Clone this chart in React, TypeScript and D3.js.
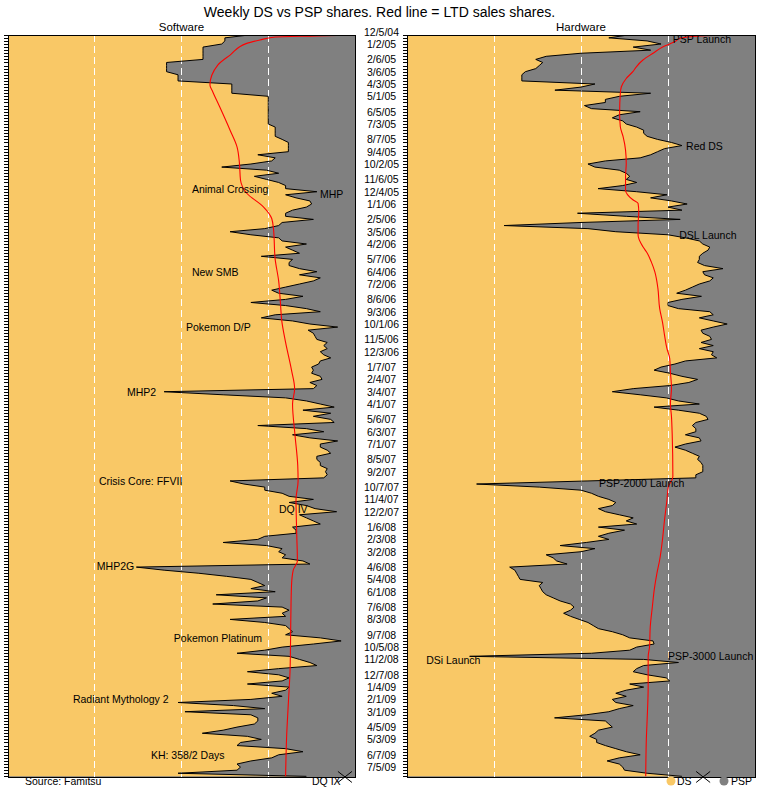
import React from "react";
import * as d3 from "d3";

// Month labels (first Sunday of each month) shown between the panels
const tickLabels = [
  "12/5/04","1/2/05","2/6/05","3/6/05","4/3/05","5/1/05","6/5/05","7/3/05","8/7/05","9/4/05",
  "10/2/05","11/6/05","12/4/05","1/1/06","2/5/06","3/5/06","4/2/06","5/7/06","6/4/06","7/2/06",
  "8/6/06","9/3/06","10/1/06","11/5/06","12/3/06","1/7/07","2/4/07","3/4/07","4/1/07","5/6/07",
  "6/3/07","7/1/07","8/5/07","9/2/07","10/7/07","11/4/07","12/2/07","1/6/08","2/3/08","3/2/08",
  "4/6/08","5/4/08","6/1/08","7/6/08","8/3/08","9/7/08","10/5/08","11/2/08","12/7/08","1/4/09",
  "2/1/09","3/1/09","4/5/09","5/3/09","6/7/09","7/5/09",
];

// Weekly DS share of software sales (week 1 = 12/12/04)
const swShare = [
  0.70, 0.625, 0.625, 0.616, 0.562, 0.562, 0.562, 0.562, 0.562, 0.457,
  0.457, 0.457, 0.457, 0.49, 0.49, 0.49, 0.645, 0.645, 0.645, 0.645,
  0.75, 0.75, 0.75, 0.75, 0.75, 0.75, 0.75, 0.75, 0.75, 0.75,
  0.77, 0.77, 0.77, 0.77, 0.79, 0.808, 0.808, 0.808, 0.808, 0.72,
  0.77, 0.76, 0.70, 0.616, 0.745, 0.78, 0.71, 0.745, 0.78, 0.80,
  0.80, 0.89, 0.80, 0.83, 0.87, 0.875, 0.86, 0.82, 0.80, 0.80,
  0.88, 0.79, 0.78, 0.74, 0.64, 0.70, 0.78, 0.79, 0.86, 0.80,
  0.82, 0.84, 0.73, 0.82, 0.81, 0.81, 0.84, 0.89, 0.84, 0.90,
  0.88, 0.84, 0.80, 0.76, 0.78, 0.85, 0.80, 0.70, 0.80, 0.86,
  0.90, 0.77, 0.73, 0.82, 0.87, 0.95, 0.865, 0.88, 0.885, 0.89,
  0.92, 0.91, 0.92, 0.90, 0.91, 0.93, 0.90, 0.895, 0.875, 0.88,
  0.875, 0.90, 0.905, 0.87, 0.89, 0.88, 0.45, 0.62, 0.80, 0.86,
  0.90, 0.94, 0.85, 0.93, 0.88, 0.93, 0.94, 0.72, 0.86, 0.91,
  0.82, 0.87, 0.95, 0.90, 0.90, 0.92, 0.93, 0.89, 0.89, 0.90,
  0.90, 0.92, 0.915, 0.92, 0.91, 0.64, 0.68, 0.74, 0.74, 0.79,
  0.81, 0.88, 0.81, 0.86, 0.885, 0.947, 0.84, 0.86, 0.88, 0.90,
  0.82, 0.83, 0.83, 0.74, 0.72, 0.62, 0.745, 0.79, 0.78, 0.80,
  0.79, 0.85, 0.87, 0.37, 0.45, 0.55, 0.63, 0.70, 0.72, 0.74,
  0.70, 0.77, 0.60, 0.745, 0.72, 0.59, 0.79, 0.81, 0.79, 0.80,
  0.64, 0.74, 0.80, 0.81, 0.82, 0.80, 0.90, 0.96, 0.88, 0.79,
  0.74, 0.66, 0.81, 0.84, 0.87, 0.89, 0.78, 0.69, 0.78, 0.81,
  0.79, 0.69, 0.81, 0.80, 0.76, 0.79, 0.70, 0.49, 0.65, 0.74,
  0.51, 0.70, 0.72, 0.72, 0.71, 0.66, 0.62, 0.56, 0.69, 0.73,
  0.67, 0.66, 0.80, 0.85, 0.78, 0.76, 0.70, 0.66, 0.67, 0.66,
  0.49, 0.86,
];

// Weekly DS share of hardware sales
const hwShare = [
  0.64, 0.58, 0.69, 0.73, 0.65, 0.70, 0.50, 0.40, 0.37, 0.39,
  0.38, 0.37, 0.34, 0.33, 0.33, 0.33, 0.54, 0.50, 0.425, 0.70,
  0.61, 0.57, 0.57, 0.51, 0.53, 0.67, 0.61, 0.59, 0.62, 0.63,
  0.66, 0.68, 0.68, 0.69, 0.72, 0.76, 0.79, 0.74, 0.72, 0.70,
  0.67, 0.57, 0.52, 0.54, 0.61, 0.63, 0.64, 0.63, 0.66, 0.62,
  0.549, 0.66, 0.747, 0.70, 0.76, 0.805, 0.75, 0.79, 0.49, 0.63,
  0.785, 0.50, 0.279, 0.52, 0.60, 0.75, 0.80, 0.84, 0.85, 0.87,
  0.865, 0.85, 0.84, 0.84, 0.835, 0.855, 0.908, 0.85, 0.855, 0.88,
  0.87, 0.84, 0.82, 0.80, 0.775, 0.846, 0.79, 0.75, 0.75, 0.78,
  0.87, 0.88, 0.84, 0.88, 0.92, 0.88, 0.845, 0.85, 0.87, 0.875,
  0.845, 0.88, 0.84, 0.88, 0.875, 0.89, 0.80, 0.77, 0.73, 0.71,
  0.755, 0.79, 0.835, 0.81, 0.755, 0.65, 0.59, 0.67, 0.745, 0.78,
  0.84, 0.71, 0.78, 0.84, 0.86, 0.865, 0.83, 0.82, 0.83, 0.83,
  0.80, 0.84, 0.845, 0.80, 0.77, 0.80, 0.82, 0.84, 0.835, 0.845,
  0.85, 0.85, 0.85, 0.83, 0.83, 0.52, 0.20, 0.38, 0.50, 0.53,
  0.55, 0.58, 0.60, 0.59, 0.55, 0.57, 0.61, 0.65, 0.63, 0.66,
  0.55, 0.625, 0.58, 0.55, 0.58, 0.515, 0.44, 0.54, 0.50, 0.40,
  0.42, 0.43, 0.46, 0.295, 0.31, 0.315, 0.32, 0.325, 0.39, 0.38,
  0.385, 0.39, 0.40, 0.42, 0.44, 0.47, 0.48, 0.47, 0.45, 0.47,
  0.495, 0.52, 0.535, 0.55, 0.59, 0.62, 0.64, 0.707, 0.71, 0.66,
  0.64, 0.53, 0.18, 0.68, 0.78, 0.68, 0.66, 0.65, 0.69, 0.745,
  0.755, 0.64, 0.68, 0.63, 0.60, 0.63, 0.59, 0.60, 0.65, 0.61,
  0.58, 0.515, 0.424, 0.57, 0.58, 0.59, 0.55, 0.54, 0.525, 0.545,
  0.545, 0.57, 0.60, 0.63, 0.67, 0.61, 0.575, 0.61, 0.62, 0.625,
  0.69, 0.79,
];

// Life-to-date DS share (red line), read at week positions
const swLtdWeek = [1.1, 1.35, 1.7, 2.7, 3.8, 7.6, 10.8, 17.3, 19.5, 24.4, 32, 37.4, 42.8, 48.2, 52.5, 56.9, 60.7, 64, 74, 81, 88, 94, 101, 110, 116, 121, 131, 141, 146, 152, 163, 172, 175, 180, 191, 207, 218, 229, 242];
const swLtdShare = [0.976, 0.89, 0.77, 0.726, 0.688, 0.64, 0.605, 0.582, 0.59, 0.61, 0.64, 0.66, 0.667, 0.67, 0.688, 0.736, 0.76, 0.765, 0.77, 0.78, 0.785, 0.789, 0.80, 0.817, 0.826, 0.82, 0.827, 0.835, 0.836, 0.83, 0.832, 0.834, 0.822, 0.817, 0.815, 0.813, 0.808, 0.803, 0.80];

const hwLtdWeek = [1, 1.4, 2.2, 3.3, 4.9, 7, 9.2, 11.4, 13, 15.2, 17.9, 20, 26.5, 30.9, 34.1, 38.5, 42.8, 47.1, 51.5, 54.7, 55.8, 58.5, 62.8, 66.1, 69.9, 71.5, 74.8, 78, 83.4, 89.9, 94.3, 98.6, 103, 106.2, 110.5, 115.9, 120.8, 125.1, 130.6, 144.6, 147.9, 152.2, 158.7, 165.2, 171.7, 176.1, 180.9, 186.9, 193.4, 199.9, 203.1, 212.9, 223.7, 229.1, 242];
const hwLtdShare = [0.956, 0.841, 0.784, 0.769, 0.736, 0.707, 0.678, 0.659, 0.649, 0.63, 0.616, 0.613, 0.611, 0.613, 0.621, 0.628, 0.63, 0.628, 0.628, 0.65, 0.664, 0.666, 0.664, 0.664, 0.678, 0.688, 0.702, 0.712, 0.721, 0.726, 0.734, 0.74, 0.747, 0.755, 0.757, 0.76, 0.757, 0.76, 0.762, 0.764, 0.751, 0.747, 0.74, 0.734, 0.726, 0.718, 0.711, 0.705, 0.699, 0.697, 0.693, 0.693, 0.69, 0.688, 0.686];

// Annotations: label, week, share (left edge of text)
const swNoteText = ["Animal Crossing", "MHP", "New SMB", "Pokemon D/P", "MHP2", "Crisis Core: FFVII", "DQ IV", "MHP2G", "Pokemon Platinum", "Radiant Mythology 2", "KH: 358/2 Days"];
const swNoteWeek = [50.96, 52.75, 78.1, 96.0, 117.1, 146.0, 155.1, 173.6, 197.0, 216.9, 235.1];
const swNoteShare = [0.53, 0.899, 0.53, 0.513, 0.343, 0.262, 0.781, 0.256, 0.478, 0.187, 0.412];

const hwNoteText = ["PSP Launch", "Red DS", "DSL Launch", "PSP-2000 Launch", "DSi Launch", "PSP-3000 Launch"];
const hwNoteWeek = [2.37, 37.1, 66.1, 146.7, 204.2, 202.9];
const hwNoteShare = [0.764, 0.802, 0.782, 0.552, 0.055, 0.75];

// Latest-week "X" markers (software, hardware)
const markWeek = 242.2;
const markShare = [0.971, 0.851];

const ORANGE = "#F9C866";
const GRAY = "#808080";
const FONT = "'Liberation Sans', Arial, sans-serif";

const W = 763, H = 787;
const TOP = 35, BOTTOM = 777;
const panels = [
  { key: "sw", x0: 8, x1: 355, title: "Software" },
  { key: "hw", x0: 407, x1: 755, title: "Hardware" },
];

const start = new Date(2004, 11, 5);
const weekDate = (w: number) => new Date(start.getTime() + w * 7 * 86400000);
const parse = d3.timeParse("%m/%d/%y");
const yScale = d3.scaleTime().domain([start, weekDate(239)]).range([31.7, 31.7 + 239 * 3.077]);
const yW = (w: number) => yScale(weekDate(w));

function Panel({ p, share, ltdW, ltdS, notes, mark }: any) {
  const x = d3.scaleLinear().domain([0, 1]).range([p.x0, p.x1]);
  const area = d3.area<number>()
    .x0(p.x0)
    .x1((d) => x(d))
    .y((_, i) => yW(i + 1));
  const edge = d3.line<number>()
    .x((d) => x(d))
    .y((_, i) => yW(i + 1));
  const ltdLine = d3.line<number>()
    .x((d) => x(d))
    .y((_, i) => yW(ltdW[i]))
    .curve(d3.curveMonotoneY);
  const clipId = "clip-" + p.key;
  const weeks = d3.range(1, share.length + 1).filter((w) => yW(w) >= TOP - 0.5 && yW(w) <= BOTTOM + 0.5);
  const mx = x(mark), my = yW(markWeek);
  return (
    <g>
      <defs>
        <clipPath id={clipId}>
          <rect x={p.x0} y={TOP} width={p.x1 - p.x0} height={BOTTOM - TOP} />
        </clipPath>
      </defs>
      <text x={(p.x0 + p.x1) / 2} y={31} textAnchor="middle" fontSize={11.5} fontFamily={FONT}>{p.title}</text>
      <g clipPath={`url(#${clipId})`}>
        <rect x={p.x0} y={TOP} width={p.x1 - p.x0} height={BOTTOM - TOP} fill={GRAY} />
        <path d={area(share) || ""} fill={ORANGE} />
        {[0.25, 0.5, 0.75].map((g) => (
          <line key={g} x1={x(g)} x2={x(g)} y1={TOP} y2={BOTTOM} stroke="#fff" strokeDasharray="7,4" shapeRendering="crispEdges" />
        ))}
        <path d={edge(share) || ""} fill="none" stroke="#000" strokeWidth={1} />
        <path d={ltdLine(ltdS) || ""} fill="none" stroke="#FF0000" strokeWidth={1.1} />
      </g>
      <rect x={p.x0} y={TOP} width={p.x1 - p.x0} height={BOTTOM - TOP} fill="none" stroke="#000" strokeWidth={1} shapeRendering="crispEdges" />
      {weeks.map((w) => (
        <line key={w} x1={p.x0 - 4} x2={p.x0} y1={Math.round(yW(w)) + 0.5} y2={Math.round(yW(w)) + 0.5} stroke="#000" strokeWidth={1} />
      ))}
      {notes.text.map((t: string, i: number) => (
        <text key={t} x={x(notes.share[i])} y={yW(notes.week[i])} dominantBaseline="central" fontSize={10.5} fontFamily={FONT} fill="#000">{t}</text>
      ))}
      <g stroke="#000" strokeWidth={1}>
        <line x1={mx - 7} x2={mx + 7} y1={my - 5.5} y2={my + 5.5} />
        <line x1={mx - 7} x2={mx + 7} y1={my + 5.5} y2={my - 5.5} />
      </g>
    </g>
  );
}

export default function App() {
  const midX = (panels[0].x1 + panels[1].x0) / 2 + 0.5;
  return (
    <svg width={W} height={H} style={{ position: "absolute", left: 0, top: 0, background: "#fff" }} fontFamily={FONT}>
      <rect x={0} y={0} width={W} height={H} fill="#fff" />
      <text x={W / 2 - 2} y={16.5} textAnchor="middle" fontSize={14} fontFamily={FONT}>Weekly DS vs PSP shares. Red line = LTD sales shares.</text>
      <Panel p={panels[0]} share={swShare} ltdW={swLtdWeek} ltdS={swLtdShare}
        notes={{ text: swNoteText, week: swNoteWeek, share: swNoteShare }} mark={markShare[0]} />
      <Panel p={panels[1]} share={hwShare} ltdW={hwLtdWeek} ltdS={hwLtdShare}
        notes={{ text: hwNoteText, week: hwNoteWeek, share: hwNoteShare }} mark={markShare[1]} />
      {tickLabels.map((t) => (
        <text key={t} x={midX} y={yScale(parse(t) as Date)} textAnchor="middle" dominantBaseline="central" fontSize={10.5} fontFamily={FONT}>{t}</text>
      ))}
      <text x={25} y={781} dominantBaseline="central" fontSize={10.5} fontFamily={FONT}>Source: Famitsu</text>
      <text x={312} y={781} dominantBaseline="central" fontSize={10.5} fontFamily={FONT}>DQ IX</text>
      <circle cx={671} cy={781} r={4.5} fill={ORANGE} />
      <text x={677} y={781} dominantBaseline="central" fontSize={10.5} fontFamily={FONT}>DS</text>
      <circle cx={724} cy={781} r={4.5} fill={GRAY} />
      <text x={731} y={781} dominantBaseline="central" fontSize={10.5} fontFamily={FONT}>PSP</text>
    </svg>
  );
}
